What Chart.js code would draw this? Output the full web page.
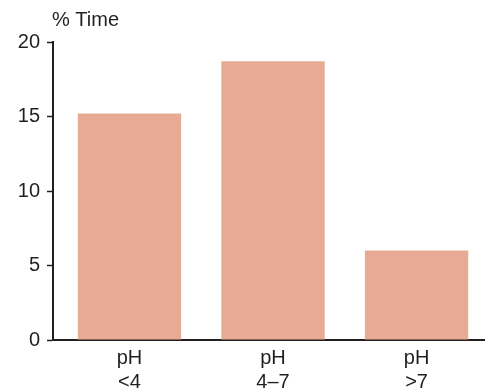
<!DOCTYPE html>
<html>
<head>
<meta charset="utf-8">
<script src="https://cdn.jsdelivr.net/npm/chart.js@4"></script>
<style>
  body { margin: 0; background: #fff; }
  #wrap { width: 485px; height: 388px; }
</style>
</head>
<body>
<div id="wrap"><canvas id="chart"></canvas></div>
<script>
// data
let categories = [['pH', '<4'], ['pH', '4\u20137'], ['pH', '>7']];
let timeValues = [15.2, 18.7, 6.0];
let yTicks = [0, 5, 10, 15, 20];

let ink = '#231f20';
let barColor = '#e7ab95';
let fontFamily = '"Liberation Sans", Arial, sans-serif';

// title "% Time" over the y axis
let yTitle = {
  id: 'yTitle',
  afterDraw(chart) {
    let ctx = chart.ctx;
    ctx.save();
    ctx.font = '20px ' + fontFamily;
    ctx.fillStyle = ink;
    ctx.textBaseline = 'alphabetic';
    ctx.textAlign = 'left';
    ctx.fillText('% Time', chart.chartArea.left - 1, 26);
    ctx.restore();
  }
};

let canvas = document.getElementById('chart');

new Chart(canvas, {
  type: 'bar',
  data: {
    datasets: [{
      data: timeValues.map((v, i) => ({ x: i, y: v })),
      backgroundColor: barColor,
      borderWidth: 0,
      barPercentage: 0.72,
      categoryPercentage: 1
    }]
  },
  options: {
    responsive: true,
    maintainAspectRatio: false,
    animation: false,
    layout: { padding: { top: 42, right: 0, left: 0, bottom: 0 } },
    plugins: {
      legend: { display: false },
      tooltip: { enabled: false }
    },
    scales: {
      x: {
        type: 'linear',
        offset: false,
        min: -0.533,
        max: 2.477,
        afterBuildTicks(scale) { scale.ticks = categories.map((c, i) => ({ value: i })); },
        grid: { display: false, drawOnChartArea: false, drawTicks: false },
        border: { display: true, color: ink, width: 2 },
        ticks: {
          color: ink,
          padding: 6,
          maxRotation: 0,
          autoSkip: false,
          callback: (v) => categories[v],
          font: { family: fontFamily, size: 20, lineHeight: 1.2 }
        },
        afterFit(scale) { scale.height = 48; }
      },
      y: {
        min: 0,
        max: 20,
        afterBuildTicks(scale) { scale.ticks = yTicks.map(v => ({ value: v })); },
        grid: { drawOnChartArea: false, drawTicks: true, tickLength: 6, tickWidth: 1.5, tickColor: ink },
        border: { display: true, color: ink, width: 2 },
        ticks: {
          color: ink,
          padding: 7,
          font: { family: fontFamily, size: 20 }
        },
        afterFit(scale) { scale.width = 53; }
      }
    }
  },
  plugins: [yTitle]
});
</script>
</body>
</html>
